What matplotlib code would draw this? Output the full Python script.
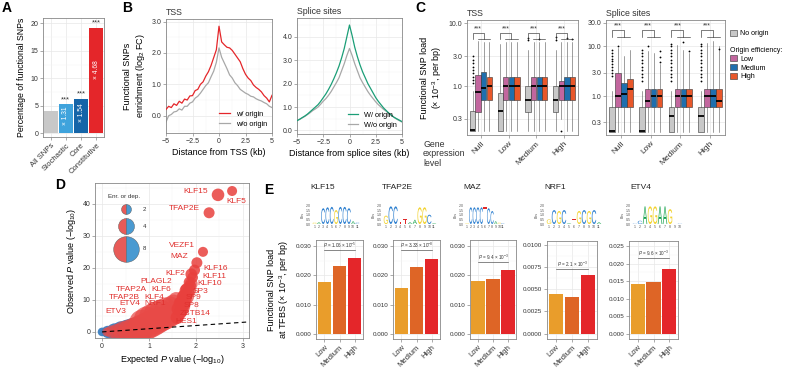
#!/usr/bin/env python3
"""
Multi-panel figure: functional SNPs vs replication origins (panels A-E).
Saves out.png at 785x371 px.
"""

import numpy as np
import matplotlib
matplotlib.use("Agg")
import matplotlib.pyplot as plt
import matplotlib.transforms as mtransforms
from matplotlib.font_manager import FontProperties
from matplotlib.patches import PathPatch, Patch
from matplotlib.textpath import TextPath
from matplotlib.ticker import AutoMinorLocator, NullLocator, FixedLocator

plt.rcParams["font.family"] = ["Liberation Sans", "DejaVu Sans"]
plt.rcParams["mathtext.fontset"] = "custom"
plt.rcParams["mathtext.rm"] = "Liberation Sans"
plt.rcParams["mathtext.it"] = "Liberation Sans:italic"

W, H = 785, 371

# ---------------- Panel A ----------------
a_cats = ["All SNPs", "Stochastic", "Core", "Constitutive"]
a_vals = [4.1, 5.3, 6.3, 19.2]
a_fold = ["", "× 1.31", "× 1.54", "× 4.68"]
a_stars = ["", "***", "***", "***"]

# ---------------- Panel B ----------------
b_dist = [-5.0, -4.75, -4.5, -4.25, -4.0, -3.75, -3.5, -3.25, -3.0, -2.75, -2.5,
          -2.25, -2.0, -1.75, -1.5, -1.25, -1.0, -0.75, -0.5, -0.25, 0.0,
          0.25, 0.5, 0.75, 1.0, 1.25, 1.5, 1.75, 2.0, 2.25, 2.5,
          2.75, 3.0, 3.25, 3.5, 3.75, 4.0, 4.25, 4.5, 4.75, 5.0]
tss_with = [0.2, 0.3, 0.26, 0.38, 0.33, 0.46, 0.4, 0.53, 0.5, 0.63, 0.64,
            0.8, 0.84, 1.0, 1.08, 1.26, 1.4, 1.6, 1.85, 2.1, 2.85,
            2.35, 2.26, 2.18, 2.16, 2.08, 1.96, 1.84, 1.72, 1.5, 1.32,
            1.2, 1.12, 0.98, 0.9, 0.84, 0.76, 0.64, 0.56, 0.44, 0.65]
tss_without = [-0.2, 0.0, 0.04, 0.12, 0.14, 0.22, 0.18, 0.3, 0.3, 0.4, 0.44,
               0.56, 0.62, 0.72, 0.84, 0.96, 1.05, 1.24, 1.42, 1.7, 2.16,
               1.86, 1.68, 1.5, 1.3, 1.2, 1.05, 0.96, 0.84, 0.78, 0.72,
               0.68, 0.62, 0.6, 0.54, 0.5, 0.47, 0.42, 0.38, 0.3, 0.26]
ss_with = [0.42, 0.48, 0.55, 0.62, 0.7, 0.8, 0.9, 1.0, 1.1, 1.24, 1.4,
           1.56, 1.75, 1.96, 2.2, 2.46, 2.75, 3.1, 3.5, 4.0, 4.5,
           4.05, 3.55, 3.15, 2.8, 2.5, 2.25, 2.0, 1.8, 1.6, 1.4,
           1.24, 1.1, 0.96, 0.85, 0.74, 0.65, 0.56, 0.5, 0.44, 0.38]
ss_without = [0.42, 0.47, 0.54, 0.6, 0.68, 0.76, 0.85, 0.92, 1.0, 1.12, 1.25,
              1.36, 1.5, 1.66, 1.85, 2.04, 2.25, 2.55, 2.85, 3.2, 3.5,
              3.2, 2.85, 2.55, 2.25, 2.04, 1.85, 1.66, 1.5, 1.36, 1.22,
              1.1, 1.0, 0.9, 0.82, 0.72, 0.64, 0.56, 0.48, 0.42, 0.36]

# ---------------- Panel C ----------------
c_groups = ["Null", "Low", "Medium", "High"]
c_origin = ["No origin", "Low", "Medium", "High"]
# rows: no origin, low, medium, high efficiency ; cols: expression groups
tss_q1 = [[0.19, 0.19, 0.39, 0.39], [0.39, 0.61, 0.61, 0.61],
          [0.61, 0.61, 0.61, 0.61], [0.61, 0.61, 0.61, 0.61]]
tss_med = [[0.2, 0.4, 0.61, 0.61], [0.81, 1.0, 1.0, 1.0],
           [0.92, 1.0, 1.0, 1.0], [1.0, 1.0, 1.0, 1.0]]
tss_q3 = [[0.4, 0.79, 1.0, 1.0], [1.5, 1.4, 1.4, 1.2],
          [1.67, 1.4, 1.4, 1.4], [1.4, 1.4, 1.4, 1.4]]
tss_lo = [[0.19, 0.19, 0.19, 0.19], [0.19, 0.19, 0.19, 0.3],
          [0.19, 0.19, 0.19, 0.19], [0.19, 0.19, 0.19, 0.19]]
tss_hi = [[0.85, 4.6, 3.8, 3.8], [5.2, 5.0, 5.0, 5.0],
          [5.0, 5.0, 5.0, 5.0], [5.0, 5.0, 5.0, 5.0]]
tss_fliers = [[[1.1, 1.25, 1.4, 1.6, 1.8, 2.0, 2.3, 2.6, 3.0], [], [5.3, 5.8], [5.4, 6.0]],
              [[], [], [], [0.19]],
              [[], [], [5.6], [5.8]],
              [[], [], [], [5.5]]]

ss_q1 = [[0.195, 0.195, 0.195, 0.195], [0.61, 0.61, 0.61, 0.61],
         [0.61, 0.61, 0.61, 0.61], [0.61, 0.61, 0.61, 0.61]]
ss_med = [[0.2, 0.2, 0.4, 0.4], [1.0, 0.82, 1.0, 1.0],
          [1.1, 1.0, 1.0, 1.0], [1.4, 1.0, 1.0, 0.82]]
ss_q3 = [[0.61, 0.61, 0.61, 0.61], [3.0, 1.4, 1.4, 1.4],
         [1.83, 1.4, 1.4, 1.4], [2.2, 1.4, 1.4, 1.4]]
ss_lo = [[0.195, 0.195, 0.195, 0.195], [0.19, 0.19, 0.19, 0.19],
         [0.19, 0.19, 0.19, 0.19], [0.19, 0.19, 0.19, 0.19]]
ss_hi = [[1.3, 1.3, 1.3, 1.3], [9.5, 8.0, 10.5, 11.5],
         [6.5, 7.5, 8.5, 13.0], [8.5, 4.5, 7.5, 10.0]]
ss_fliers = [[[2.6, 3.0, 3.4, 3.9, 4.4, 5.0, 5.7, 6.5, 7.4, 8.4],
              [2.0, 2.4, 2.8, 3.3, 3.9, 4.6, 5.4, 6.3, 7.4, 8.6],
              [2.0, 2.4, 2.8, 3.3, 3.9, 4.6, 5.4, 6.3, 7.4, 8.6, 10.0, 11.2],
              [2.0, 2.4, 2.8, 3.3, 3.9, 4.6, 5.4, 6.3, 7.4, 8.6, 10.0, 11.0]],
             [[10.4], [10.4], [], []],
             [[], [], [12.2], []],
             [[], [4.9, 6.1, 8.3], [8.0], [9.0]]]

# ---------------- Panel D ----------------
dep_exp = [0.0, 0.12, 0.27, 0.42, 0.55, 0.67, 0.78]
dep_obs = [0.0, 0.0, 0.05, 0.1, 0.2, 0.35, 0.5]
dep_fold = [1.5, 2.5, 4.0, 5.5, 6.5, 7.5, 8.0]
enr_exp = [0.1, 0.2, 0.32, 0.45, 0.58, 0.7, 0.82, 0.92, 1.0, 1.08, 1.16, 1.24,
           1.32, 1.4, 1.47, 1.54, 1.6, 1.66, 1.71, 1.76, 1.81, 1.86, 1.9,
           0.85, 0.95, 1.05, 1.15, 1.25, 1.35, 1.45, 1.52, 1.58]
enr_obs = [0.0, 0.05, 0.1, 0.2, 0.35, 0.6, 1.0, 1.6, 2.2, 2.8, 3.3, 3.8,
           4.2, 4.6, 5.0, 5.5, 6.2, 7.0, 8.0, 9.5, 11.0, 13.0, 15.0,
           3.0, 4.0, 5.0, 5.8, 6.6, 7.4, 8.2, 9.0, 10.0]
enr_fold = [1.5, 2.5, 3.5, 5, 6, 7, 8, 8, 8, 8, 7.5, 7,
            6.5, 6, 5.5, 5, 4.5, 4, 3.5, 3, 3, 2.8, 2.6,
            7, 7, 6.5, 6.5, 6, 5.5, 4.5, 4, 3.5]
tf_names = ["KLF5", "KLF15", "TFAP2E", "VEZF1", "MAZ", "KLF16", "KLF2", "KLF11",
            "KLF10", "SP3", "SP9", "SP8", "ZBTB14", "HES1", "PLAGL2", "TFAP2A",
            "KLF6", "TFAP2B", "KLF4", "ETV4", "NRF1", "ETV3"]
tf_exp = [2.77, 2.47, 2.28, 2.15, 2.02, 1.97, 1.9, 1.93, 1.88, 1.84, 1.78,
          1.74, 1.68, 1.6, 1.86, 1.78, 1.8, 1.72, 1.75, 1.66, 1.7, 1.62]
tf_obs = [44.0, 42.8, 37.2, 25.0, 21.6, 19.3, 18.0, 17.0, 14.5, 12.5, 10.5,
          8.5, 6.5, 4.5, 15.5, 13.0, 13.5, 11.0, 11.5, 9.0, 9.5, 7.2]
tf_fold = [2.0, 2.8, 2.3, 2.0, 2.3, 2.3, 2.5, 2.2, 2.4, 2.5, 2.5,
           2.7, 3.0, 3.0, 2.4, 2.6, 2.4, 2.6, 2.6, 2.8, 2.7, 3.0]
size_legend = [2, 4, 8]

# ---------------- Panel E ----------------
e_levels = ["Low", "Medium", "High"]
e_tfs = ["KLF15", "TFAP2E", "MAZ", "NRF1", "ETV4"]
e_klf15 = [0.0177, 0.0230, 0.0260]
e_tfap2e = [0.0157, 0.0227, 0.0257]
e_maz = [0.0179, 0.0188, 0.0219]
e_nrf1 = [0.0045, 0.0041, 0.0066]
e_etv4 = [0.0142, 0.0148, 0.0184]
e_pvals = [r"$P$ = 1.06 × 10$^{-5}$", r"$P$ = 3.33 × 10$^{-8}$",
           r"$P$ = 9.4 × 10$^{-3}$", r"$P$ = 2.1 × 10$^{-3}$",
           r"$P$ = 9.6 × 10$^{-3}$"]
# sequence logos: letter per position and its height in bits
logo_seqs = ["GACCCGCCCAC", "GCCTTAAGGCA", "GCCCCTCCAGC", "GCGCATGCGCA", "CCAGGAAGTC"]
logo_bits = [[0.15, 0.2, 1.7, 1.8, 1.85, 1.5, 1.85, 1.85, 1.7, 0.3, 0.15],
             [0.9, 1.9, 1.9, 0.25, 0.5, 0.2, 0.45, 1.8, 1.8, 1.0, 0.1],
             [0.1, 1.8, 1.8, 1.8, 1.8, 1.8, 1.7, 1.4, 0.3, 0.15, 0.1],
             [0.5, 1.5, 1.4, 1.5, 0.1, 0.5, 1.4, 1.5, 1.4, 1.5, 0.2],
             [0.05, 0.35, 1.9, 1.9, 1.9, 1.9, 1.9, 1.6, 0.05, 0.05]]

GRID = "#e8e8e8"
FRAME = "#888888"
RED = "#e4262a"
TXT = "#333333"


def add_ax(fig, x0, y0, x1, y1):
    return fig.add_axes([x0 / W, 1 - y1 / H, (x1 - x0) / W, (y1 - y0) / H])


def style(ax, minor=True, size=5):
    for s in ax.spines.values():
        s.set_color(FRAME)
        s.set_linewidth(0.6)
    if minor:
        ax.xaxis.set_minor_locator(AutoMinorLocator(2))
        ax.yaxis.set_minor_locator(AutoMinorLocator(2))
        ax.grid(True, which="minor", color="#f3f3f3", lw=0.35)
    ax.grid(True, which="major", color=GRID, lw=0.5)
    ax.set_axisbelow(True)
    ax.tick_params(which="major", length=2, width=0.5, color=FRAME,
                   labelsize=size, pad=1.5, labelcolor=TXT)
    ax.tick_params(which="minor", length=0)


def panel_a(fig):
    ax = add_ax(fig, 43, 18, 104, 137)
    cols = ["#c8c8c8", "#3fa3dc", "#1565a8", RED]
    x = np.arange(len(a_cats))
    ax.bar(x, a_vals, width=0.92, color=cols, zorder=2)
    for i, v in enumerate(a_vals):
        if a_fold[i]:
            ax.text(i, v * 0.6, a_fold[i], rotation=90, ha="center", va="center",
                    color="white", fontsize=4.8, zorder=3)
        if a_stars[i]:
            ax.text(i, v + 0.2, a_stars[i], ha="center", va="bottom", fontsize=5.5, color=TXT)
    ax.set_xlim(-0.5, 3.5)
    ax.set_ylim(-0.7, 21)
    ax.set_yticks([0, 5, 10, 15, 20])
    style(ax)
    ax.xaxis.set_minor_locator(NullLocator())
    ax.set_xticks(x)
    ax.set_xticklabels(a_cats, rotation=45, ha="right", rotation_mode="anchor", fontsize=5.5)
    ax.set_ylabel("Percentage of functional SNPs", fontsize=6.3, labelpad=3)


def panel_b(fig):
    ax1 = add_ax(fig, 166, 19, 272, 133)
    ax1.plot(b_dist, tss_with, color=RED, lw=0.9, label="w/ origin", zorder=3)
    ax1.plot(b_dist, tss_without, color="#a8a8a8", lw=0.9, label="w/o origin", zorder=2)
    ax1.set_xlim(-5, 5)
    ax1.set_ylim(-0.55, 3.08)
    ax1.set_xticks([-5, -2.5, 0, 2.5, 5])
    ax1.set_xticklabels(["−5", "−2.5", "0", "2.5", "5"])
    ax1.set_yticks([0, 1, 2, 3])
    ax1.set_yticklabels(["0.0", "1.0", "2.0", "3.0"])
    style(ax1)
    ax1.set_xlabel("Distance from TSS (kb)", fontsize=6.5, labelpad=2)
    ax1.set_ylabel("Functional SNPs\nenrichment (log$_2$ FC)", fontsize=6.5, labelpad=3)
    ax1.set_title("TSS", loc="left", fontsize=6.3, pad=3, color=TXT)
    ax1.legend(loc="lower right", frameon=False, fontsize=5.3, handlelength=1.4,
               borderaxespad=0.3, labelspacing=0.4)

    ax2 = add_ax(fig, 297, 18, 402, 134)
    ax2.plot(b_dist, ss_with, color="#1b9e77", lw=0.9, label="W/ origin", zorder=3)
    ax2.plot(b_dist, ss_without, color="#a8a8a8", lw=0.9, label="W/o origin", zorder=2)
    ax2.set_xlim(-5, 5)
    ax2.set_ylim(-0.15, 4.8)
    ax2.set_xticks([-5, -2.5, 0, 2.5, 5])
    ax2.set_xticklabels(["−5", "−2.5", "0", "2.5", "5"])
    ax2.set_yticks([0, 1, 2, 3, 4])
    ax2.set_yticklabels(["0.0", "1.0", "2.0", "3.0", "4.0"])
    style(ax2)
    ax2.set_xlabel("Distance from splice sites (kb)", fontsize=6.5, labelpad=2)
    ax2.set_title("Splice sites", loc="left", fontsize=6.3, pad=3, color=TXT)
    ax2.legend(loc="lower right", frameon=False, fontsize=5.3, handlelength=1.4,
               borderaxespad=0.3, labelspacing=0.4)


def draw_boxes(ax, q1, med, q3, lo, hi, fliers, cols):
    offs = [-0.3, -0.1, 0.1, 0.3]
    for k in range(4):
        stats, pos = [], []
        for g in range(4):
            stats.append({"med": med[k][g], "q1": q1[k][g], "q3": q3[k][g],
                          "whislo": lo[k][g], "whishi": hi[k][g], "fliers": fliers[k][g]})
            pos.append(g + 1 + offs[k])
        ax.bxp(stats, positions=pos, widths=0.19, patch_artist=True, showcaps=False,
               boxprops=dict(facecolor=cols[k], edgecolor="#333333", lw=0.4),
               medianprops=dict(color="black", lw=1.3),
               whiskerprops=dict(color="#555555", lw=0.4),
               flierprops=dict(marker="o", ms=1.3, mfc="black", mec="none"),
               manage_ticks=False, zorder=2)


def brackets(ax, y_leg, y_top):
    for g in range(1, 5):
        xg, xc = g - 0.3, g + 0.1
        ax.plot([xg, xg, xc, xc], [y_leg, y_top, y_top, y_leg], color="#333333", lw=0.45)
        ax.plot([g - 0.12, g + 0.32], [y_leg, y_leg], color="#333333", lw=0.45)
        ax.text((xg + xc) / 2, y_top * 1.02, "***", ha="center", va="bottom",
                fontsize=4.8, color=TXT)


def panel_c(fig):
    cols = ["#c8c8c8", "#c2669e", "#1f6fae", "#e8572a"]
    ax1 = add_ax(fig, 467, 20, 578, 135)
    draw_boxes(ax1, tss_q1, tss_med, tss_q3, tss_lo, tss_hi, tss_fliers, cols)
    brackets(ax1, 5.6, 6.9)
    ax1.set_yscale("log")
    ax1.set_ylim(0.167, 11.2)
    ax1.set_xlim(0.5, 4.5)
    ax2 = add_ax(fig, 606, 20, 725, 135)
    draw_boxes(ax2, ss_q1, ss_med, ss_q3, ss_lo, ss_hi, ss_fliers, cols)
    brackets(ax2, 15.5, 21.6)
    ax2.set_yscale("log")
    ax2.set_ylim(0.167, 34)
    ax2.set_xlim(0.5, 4.5)
    for ax, ticks, title in [(ax1, [0.3, 1, 3, 10], "TSS"),
                             (ax2, [0.3, 1, 3, 10, 30], "Splice sites")]:
        style(ax, minor=False)
        ax.yaxis.set_major_locator(FixedLocator(ticks))
        ax.yaxis.set_minor_locator(NullLocator())
        ax.set_yticklabels([f"{t:.1f}" for t in ticks])
        ax.set_xticks([1, 2, 3, 4])
        ax.set_xticklabels(c_groups, rotation=45, ha="right", rotation_mode="anchor", fontsize=6)
        ax.set_title(title, loc="left", fontsize=6.3, pad=3, color=TXT)
    ax1.set_ylabel("Functional SNP load\n(× 10$^{-3}$, per bp)", fontsize=6.5, labelpad=3)
    fig.text(423 / W, 1 - 140 / H, "Gene\nexpression\nlevel", fontsize=6.3, va="top",
             ha="left", linespacing=1.05, color=TXT)

    h0 = [Patch(facecolor=cols[0], edgecolor="#333333", lw=0.4)]
    leg1 = ax2.legend(h0, ["No origin"], loc="upper left", bbox_to_anchor=(1.015, 0.94),
                      frameon=False, fontsize=5.1, handlelength=1.0, handleheight=0.9,
                      borderaxespad=0, handletextpad=0.5)
    ax2.add_artist(leg1)
    hs = [Patch(facecolor=c, edgecolor="#333333", lw=0.4) for c in cols[1:]]
    leg2 = ax2.legend(hs, c_origin[1:], loc="upper left", bbox_to_anchor=(1.015, 0.79),
                      frameon=False, fontsize=5.1, handlelength=1.0, handleheight=0.9,
                      borderaxespad=0, title="Origin efficiency:", title_fontsize=5.0,
                      labelspacing=0.2, handletextpad=0.5)
    leg2._legend_box.align = "left"


def fold_size(v):
    # marker area (pt^2) for a given fold value
    return (7.2 * (np.asarray(v) / 2.0) ** 0.68) ** 2


def panel_d(fig):
    ax = add_ax(fig, 95, 183, 249, 338)
    ax.scatter(dep_exp, dep_obs, s=fold_size(dep_fold) * 1.1, color="#3a7fc1",
               alpha=0.95, lw=0, zorder=2)
    ax.scatter(enr_exp, enr_obs, s=fold_size(enr_fold) * 1.15, color="#e84a47",
               alpha=0.72, lw=0, zorder=3)
    ax.scatter(tf_exp, tf_obs, s=fold_size(tf_fold), color="#e8403d",
               alpha=0.85, lw=0, zorder=4)
    ax.plot([0, 3.3], [0, 3.3], ls=(0, (4, 3)), color="black", lw=0.8, zorder=5)

    # text positions for the labelled TFs (data coordinates, alignment)
    lab_pos = {
        "KLF15": (2.26, 44.0, "right"), "KLF5": (2.65, 40.6, "left"),
        "TFAP2E": (2.09, 38.4, "right"), "VEZF1": (1.98, 26.9, "right"),
        "MAZ": (1.83, 23.4, "right"), "KLF16": (2.15, 19.7, "left"),
        "KLF2": (1.77, 18.1, "right"), "KLF11": (2.13, 17.2, "left"),
        "KLF10": (2.02, 15.0, "left"), "SP3": (1.94, 12.5, "left"),
        "SP9": (1.79, 10.6, "left"), "SP8": (1.73, 8.1, "left"),
        "ZBTB14": (1.66, 5.9, "left"), "HES1": (1.57, 3.4, "left"),
        "PLAGL2": (1.49, 15.6, "right"), "TFAP2A": (0.96, 13.1, "right"),
        "KLF6": (1.47, 13.1, "right"), "TFAP2B": (0.81, 10.9, "right"),
        "KLF4": (1.32, 10.9, "right"), "ETV4": (0.81, 8.8, "right"),
        "NRF1": (1.36, 8.8, "right"), "ETV3": (0.51, 6.3, "right"),
    }
    for name in tf_names:
        x, y, ha = lab_pos[name]
        ax.text(x, y, name, ha=ha, va="center", fontsize=6, color="#e0302e", zorder=6)

    ax.set_xlim(-0.15, 3.13)
    ax.set_ylim(-1.9, 46.5)
    ax.set_xticks([0, 1, 2, 3])
    ax.set_yticks([0, 10, 20, 30, 40])
    style(ax)
    ax.set_xlabel("Expected $P$ value (−log$_{10}$)", fontsize=6.5, labelpad=2)
    ax.set_ylabel("Observed $P$ value (−log$_{10}$)", fontsize=6.5, labelpad=3)

    # size legend with half red / half blue circles
    ax.text(0.19, 0.915, "Enr. or dep.", transform=ax.transAxes, ha="center",
            va="center", fontsize=4.5, color=TXT, zorder=7)
    for v, yy in zip(size_legend, [0.83, 0.72, 0.575]):
        ms = 7.2 * (v / 2.0) ** 0.68
        ax.plot([0.2], [yy], marker="o", ms=ms, fillstyle="left", mfc="#e85b58",
                mfcalt="#4a9ad1", mec="#555555", mew=0.3, transform=ax.transAxes,
                zorder=7, ls="none")
        ax.text(0.31, yy, str(v), transform=ax.transAxes, ha="left", va="center",
                fontsize=4.3, color=TXT, zorder=7)


LOGO_FP = FontProperties(family="Liberation Sans")
LOGO_COL = {"A": "#13a14a", "C": "#2c7fcf", "G": "#f2d22e", "T": "#e02a2a"}


def draw_letter(ax, ch, x, h):
    tp = TextPath((0, 0), ch, size=1, prop=LOGO_FP)
    bb = tp.get_extents()
    tr = (mtransforms.Affine2D().translate(-bb.x0, -bb.y0)
          .scale(0.9 / bb.width, h / bb.height).translate(x - 0.45, 0))
    ax.add_patch(PathPatch(tr.transform_path(tp), fc=LOGO_COL[ch], ec="none", lw=0))


def panel_e(fig):
    bar_boxes = [(316, 240, 363, 339), (393, 240, 440, 339), (470, 240, 516, 339),
                 (547, 241, 597, 339), (629, 241, 678, 339)]
    logo_boxes = [(312, 205, 360, 224), (383, 205, 437, 224), (465, 205, 505, 224),
                  (546, 205, 602, 224), (632, 205, 683, 224)]
    values = [e_klf15, e_tfap2e, e_maz, e_nrf1, e_etv4]
    ylims = [(-0.0017, 0.032), (-0.0017, 0.032), (-0.0017, 0.032),
             (-0.0006, 0.0104), (-0.0014, 0.0264)]
    yticks = [[0, 0.01, 0.02, 0.03]] * 3 + [[0, 0.0025, 0.005, 0.0075, 0.01],
                                           [0, 0.005, 0.01, 0.015, 0.02, 0.025]]
    yfmt = ["{:.3f}"] * 3 + ["{:.4f}", "{:.3f}"]
    brk_y = [0.0285, 0.0285, 0.0245, 0.0073, 0.0215]
    cols = ["#e99d2b", "#de6526", RED]

    for i, tf in enumerate(e_tfs):
        ax = add_ax(fig, *bar_boxes[i])
        ax.bar([1, 2, 3], values[i], width=0.9, color=cols, zorder=2)
        ax.set_xlim(0.45, 3.55)
        ax.set_ylim(*ylims[i])
        ax.set_yticks(yticks[i])
        ax.set_yticklabels([yfmt[i].format(t) for t in yticks[i]])
        style(ax, size=4.5)
        ax.xaxis.set_minor_locator(NullLocator())
        ax.set_xticks([1, 2, 3])
        ax.set_xticklabels(e_levels, rotation=45, ha="right", rotation_mode="anchor", fontsize=5.5)
        ax.plot([1, 3], [brk_y[i], brk_y[i]], color="#444444", lw=0.45, zorder=3)
        ax.text(2, brk_y[i], e_pvals[i], ha="center", va="bottom", fontsize=3.3,
                color=TXT, zorder=3)
        if i == 0:
            ax.set_ylabel("Functional SNP load\nat TFBS (× 10$^{-3}$, per bp)",
                          fontsize=6.5, labelpad=3)

        # motif logo
        lx = add_ax(fig, *logo_boxes[i])
        seq, bits = logo_seqs[i], logo_bits[i]
        for p, (ch, h) in enumerate(zip(seq, bits)):
            draw_letter(lx, ch, p + 1, h)
        lx.set_xlim(0.4, len(seq) + 0.6)
        lx.set_ylim(0, 2.05)
        for s in lx.spines.values():
            s.set_visible(False)
        lx.set_yticks([0, 0.5, 1, 1.5, 2])
        lx.set_yticklabels(["0.0", "0.5", "1.0", "1.5", "2.0"])
        lx.set_xticks(range(1, len(seq) + 1))
        lx.tick_params(length=0, labelsize=2.6, pad=0.8, labelcolor="#555555")
        lx.set_ylabel("Bits", fontsize=2.6, labelpad=0.8, color="#555555")
        fig.text(logo_boxes[i][0] / W - 0.002, 1 - 188 / H, tf, fontsize=6,
                 ha="left", va="center", color="#222222")


def main() -> None:
    fig = plt.figure(figsize=(W / 100, H / 100), dpi=100)
    panel_a(fig)
    panel_b(fig)
    panel_c(fig)
    panel_d(fig)
    panel_e(fig)

    # panel letters
    for lab, x, y in [("A", 2, 8), ("B", 122, 8), ("C", 415, 8), ("D", 55, 185), ("E", 264, 190)]:
        fig.text(x / W, 1 - y / H, lab, fontsize=10, fontweight="bold", va="center", ha="left")

    fig.savefig("out.png", dpi=100)


if __name__ == "__main__":
    main()
